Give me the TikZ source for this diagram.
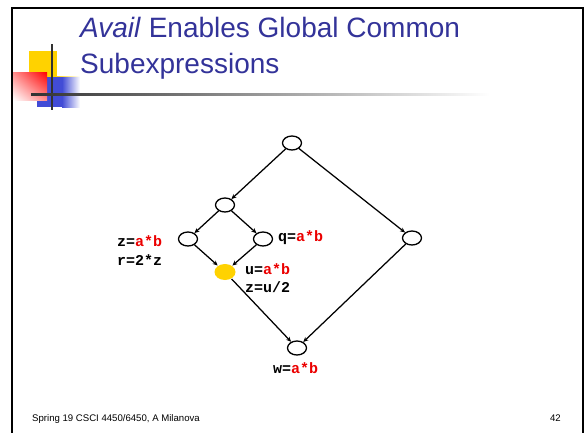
\documentclass[tikz,border=0pt]{standalone}
\usepackage{fontspec}
\setmainfont{Liberation Sans}
\newfontfamily\codefont{Liberation Mono}
\usetikzlibrary{shapes.geometric,arrows.meta,shadings}

\definecolor{titleblue}{RGB}{51,51,153}
\definecolor{logoyellow}{RGB}{255,210,0}
\definecolor{logoblue}{RGB}{66,76,214}
\definecolor{bargrey}{RGB}{50,50,50}
\definecolor{exprred}{RGB}{235,0,0}

\tikzset{
  cfgnode/.style={ellipse,draw,line width=1.3pt,minimum width=19pt,minimum height=14pt,inner sep=0pt},
  flow/.style={line width=1.25pt,-{Stealth[length=5pt,width=4.5pt]}},
  code/.style={anchor=base west,inner sep=0pt,font=\codefont\bfseries\fontsize{15}{17}\selectfont},
}
\newcommand{\ab}{\textcolor{exprred}{a*b}}

\begin{document}
\begin{tikzpicture}[x=1pt,y=-1pt]
  \useasboundingbox (0,0) rectangle (584,432);

  %%%%% frame %%%%%
  \draw[line width=2.5pt] (12,440) -- (12,8) -- (583,8) -- (583,440);

  %%%%% logo %%%%%
  \fill[logoyellow] (29,51) rectangle (57,77);
  \shade[left color=logoyellow, right color=white] (55,76) rectangle (80,78.5);
  \fill[logoblue] (37,77) rectangle (62,107);
  \shade[left color=logoblue, right color=white] (62,77) rectangle (80,107);
  \shade[upper right=red, upper left=red!45!white, lower right=red!45!white, lower left=white]
    (13,72) rectangle (47,100);
  \fill[bargrey] (51,44) rectangle (53,110);
  \shade[left color=bargrey, right color=white] (31,93) rectangle (490,95.5);

  %%%%% title %%%%%
  \node[anchor=base west, inner sep=0pt, text=titleblue, font=\fontsize{28}{34}\selectfont]
    (title1) at (80,37) {\textit{Avail} Enables Global Common};
  \node[anchor=base west, inner sep=0pt, text=titleblue, font=\fontsize{28}{34}\selectfont]
    (title2) at (80,73) {Subexpressions};

  %%%%% flow graph %%%%%
  \node[cfgnode] (top)  at (292,143) {};
  \node[cfgnode] (mid)  at (225,205) {};
  \node[cfgnode] (lft)  at (188,239) {};
  \node[cfgnode] (rgt)  at (263,239) {};
  \node[cfgnode, draw=none, fill=logoyellow, minimum width=21pt, minimum height=16pt]
    (join) at (225,272) {};
  \node[cfgnode] (side) at (412,238) {};
  \node[cfgnode] (exit) at (297,348) {};

  \draw[flow] (top) -- (mid);
  \draw[flow] (top) -- (side);
  \draw[flow] (mid) -- (lft);
  \draw[flow] (mid) -- (rgt);
  \draw[flow] (lft) -- (join);
  \draw[flow] (rgt) -- (join);
  \draw[flow] (join) -- (exit);
  \draw[flow] (side) -- (exit);

  %%%%% statements %%%%%
  \node[code] (zab) at (117,246) {z=\ab};
  \node[code] (r2z) at (117,265) {r=2*z};
  \node[code] (qab) at (278,241) {q=\ab};
  \node[code] (uab) at (245,274) {u=\ab};
  \node[code] (zu2) at (245,292) {z=u/2};
  \node[code] (wab) at (273,373) {w=\ab};

  %%%%% footer %%%%%
  \node[anchor=base west, inner sep=0pt, font=\fontsize{9.6}{11}\selectfont]
    (foot) at (32,421) {Spring 19 CSCI 4450/6450, A Milanova};
  \node[anchor=base east, inner sep=0pt, font=\fontsize{9.6}{11}\selectfont]
    (page) at (561,421) {42};
\end{tikzpicture}
\end{document}
